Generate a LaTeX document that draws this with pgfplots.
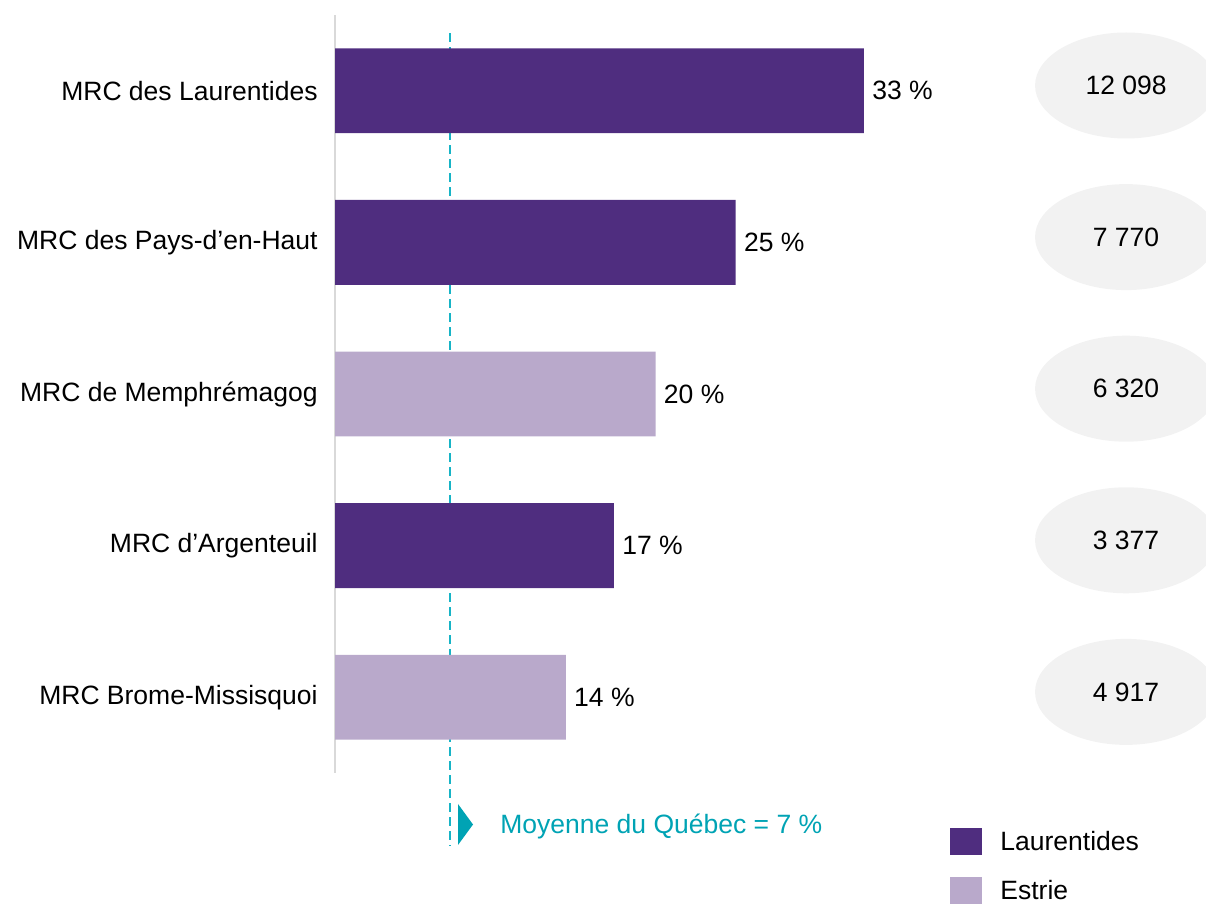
\documentclass[border=0pt]{standalone}
\usepackage{fontspec}
\setmainfont{Liberation Sans}
\usepackage{pgfplots}
\pgfplotsset{compat=1.18}
\usetikzlibrary{shapes.geometric}
\definecolor{lau}{HTML}{4F2D7F}
\definecolor{est}{HTML}{B9A9CB}
\definecolor{ell}{HTML}{F2F2F2}
\definecolor{avg}{HTML}{17B4C6}
\definecolor{avgtxt}{HTML}{00A3B4}
\newcommand{\chartfont}{\fontsize{13.3}{16}\selectfont}
\begin{document}
\begin{tikzpicture}
\useasboundingbox (0,0) rectangle (603bp,452bp);
\begin{axis}[
  at={(167.5bp,65.5bp)}, anchor=south west,
  scale only axis, width=432.8bp, height=379bp,
  xmin=0, xmax=54, ymin=-0.5, ymax=4.5,
  clip=false,
  axis x line=none,
  axis y line*=left,
  y axis line style={draw=black!15, line width=1bp},
  major tick length=0pt,
  ytick={0,1,2,3,4},
  yticklabels={MRC Brome-Missisquoi, MRC d’Argenteuil, MRC de Memphrémagog, MRC des Pays-d’en-Haut, MRC des Laurentides},
  yticklabel style={font=\chartfont, inner sep=0pt, xshift=-8.5bp},
  legend image code/.code={\draw[#1,/tikz/.cd,draw=none] (0bp,-6.75bp) rectangle (16bp,6.75bp);},
  legend style={at={(axis description cs:0.7105,-0.0726)}, anchor=north west, draw=none, fill=none, inner sep=0pt, font=\chartfont, row sep=11bp, column sep=9bp, nodes={inner sep=0pt}},
  legend cell align=left,
]
% average reference line (Québec = 7 %)
\addplot[forget plot, avg, line width=1bp, dash pattern=on 4.5bp off 2.5bp] coordinates {(7.2,4.38) (7.2,-0.98)};
% bars
\addplot[xbar, bar width=0.56, bar shift=0pt, fill=lau, draw=none,
  point meta=explicit symbolic, nodes near coords,
  every node near coord/.append style={font=\chartfont, text=black, inner sep=0pt, xshift=4bp, anchor=west}]
  coordinates {(33,4)[33 \%] (25,3)[25 \%] (17.4,1)[17 \%]};
\addlegendentry{Laurentides}
\addplot[xbar, bar width=0.56, bar shift=0pt, fill=est, draw=none,
  point meta=explicit symbolic, nodes near coords,
  every node near coord/.append style={font=\chartfont, text=black, inner sep=0pt, xshift=4bp, anchor=west}]
  coordinates {(20,2)[20 \%] (14.4,0)[14 \%]};
\addlegendentry{Estrie}
% counts in ellipses
\addplot[forget plot, only marks, mark=*, mark options={draw=none, fill=none},
  point meta=explicit symbolic, nodes near coords,
  every node near coord/.style={ellipse, fill=ell, minimum width=91bp, minimum height=53bp, anchor=center, font=\chartfont, text=black}]
  coordinates {(49.35,4.035)[12 098] (49.35,3.035)[7 770] (49.35,2.035)[6 320] (49.35,1.035)[3 377] (49.35,0.035)[4 917]};
\end{axis}
\fill[avgtxt] (229bp,50bp) -- (236.5bp,39.75bp) -- (229bp,29.5bp) -- cycle;
\node[anchor=west, inner sep=0pt, text=avgtxt, font=\chartfont] at (250bp,39bp) {Moyenne du Québec = 7 \%};
\end{tikzpicture}
\end{document}
